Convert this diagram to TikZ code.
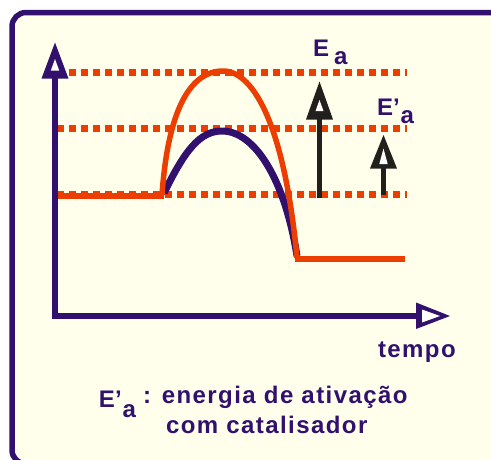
\documentclass[tikz,border=0pt]{standalone}
\usepackage{fontspec}
\setmainfont{Liberation Sans}
\newfontfamily\labfont{Liberation Sans}[LetterSpace=6]
\definecolor{ink}{RGB}{50,16,110}
\definecolor{hot}{RGB}{236,62,0}
\definecolor{cream}{RGB}{255,255,236}
\definecolor{blk}{RGB}{34,32,28}
\begin{document}
\begin{tikzpicture}[x=1pt,y=-1pt,
  lab/.style={inner sep=0pt, outer sep=0pt, anchor=base west, text=ink,
              font=\labfont\bfseries\fontsize{24}{28}\selectfont},
  sym/.style={inner sep=0pt, outer sep=0pt, anchor=base west, text=ink,
              font=\bfseries\fontsize{24}{28}\selectfont},
  dotline/.style={draw=hot, line width=7pt, dash pattern=on 7pt off 5pt},
  hotline/.style={draw=hot, line width=5.5pt},
  inkline/.style={draw=ink, line width=7pt},
  axisline/.style={draw=ink, line width=6pt, line join=miter},
  blkline/.style={draw=blk, line width=5pt}]
\useasboundingbox (0,0) rectangle (491,459);
\clip (0,0) rectangle (491,459);
% frame
\draw[draw=ink, line width=5.5pt, fill=cream, rounded corners=14pt] (12,12.5) rectangle (520,464);
% dotted levels
\draw[dotline] (57,72.5) -- (407,72.5);
\draw[dotline] (57,128.5) -- (407,128.5);
\draw[dotline] (57,194.5) -- (407,194.5);
% catalysed path (purple)
\coordinate (ps) at (164,193);
\coordinate (pp) at (222,131);
\coordinate (pe) at (297,256);
\draw[inkline] (ps) .. controls (185,150) and (200,131) .. (pp)
               .. controls (255,131) and (285,180) .. (pe);
% uncatalysed path (orange)
\coordinate (os) at (162,195);
\coordinate (op) at (223,71);
\coordinate (oe) at (297,258);
\draw[hotline] (os) .. controls (168,110) and (190,71) .. (op)
               .. controls (255,71) and (285,130) .. (oe);
\coordinate (l0) at (57,195.5);
\coordinate (l1) at (164,195.5);
\coordinate (r0) at (295,259);
\coordinate (r1) at (405,259);
\draw[draw=hot, line width=6pt] (l0) -- (l1);
\draw[draw=hot, line width=6pt] (r0) -- (r1);
% axes
\coordinate (ytop) at (55,78);
\coordinate (orig) at (55,316);
\coordinate (xend) at (417,316);
\draw[axisline] (ytop) -- (orig) -- (xend);
\fill[ink] (55,42.5) -- (41.5,78.5) -- (68.5,78.5) -- cycle;
\fill[white] (55,59) -- (50.8,70.5) -- (59.2,70.5) -- cycle;
\fill[ink] (450,316) -- (416,302.5) -- (416,329) -- cycle;
\fill[white] (440,316) -- (422,309.5) -- (422,322.5) -- cycle;
% black arrows
\coordinate (a1b) at (319.5,198);
\coordinate (a1t) at (319.5,118);
\draw[blkline] (a1b) -- (a1t);
\fill[blk] (319.5,81.5) -- (306,119.5) -- (333,119.5) -- cycle;
\fill[white] (319.5,100) -- (315.5,111) -- (323.5,111) -- cycle;
\coordinate (a2b) at (383.5,195);
\coordinate (a2t) at (383.5,167);
\draw[blkline] (a2b) -- (a2t);
\fill[blk] (383.5,135) -- (370,168.5) -- (397,168.5) -- cycle;
\fill[white] (383.5,148.5) -- (379.3,164) -- (387.7,164) -- cycle;
% labels
\node[sym] (eaE) at (313,56) {E};
\node[sym] (eaA) at (334,64) {a};
\node[sym] (epE) at (377,115) {E’};
\node[sym] (epA) at (400.5,123) {a};
\node[lab] (tempo) at (378,357) {tempo};
\node[sym] (bE) at (99,407) {E’};
\node[sym] (bA) at (122.5,417) {a};
\node[lab] (b1) at (143,403) {: energia de ativação};
\node[lab] (b2) at (166,433) {com catalisador};
\end{tikzpicture}
\end{document}
